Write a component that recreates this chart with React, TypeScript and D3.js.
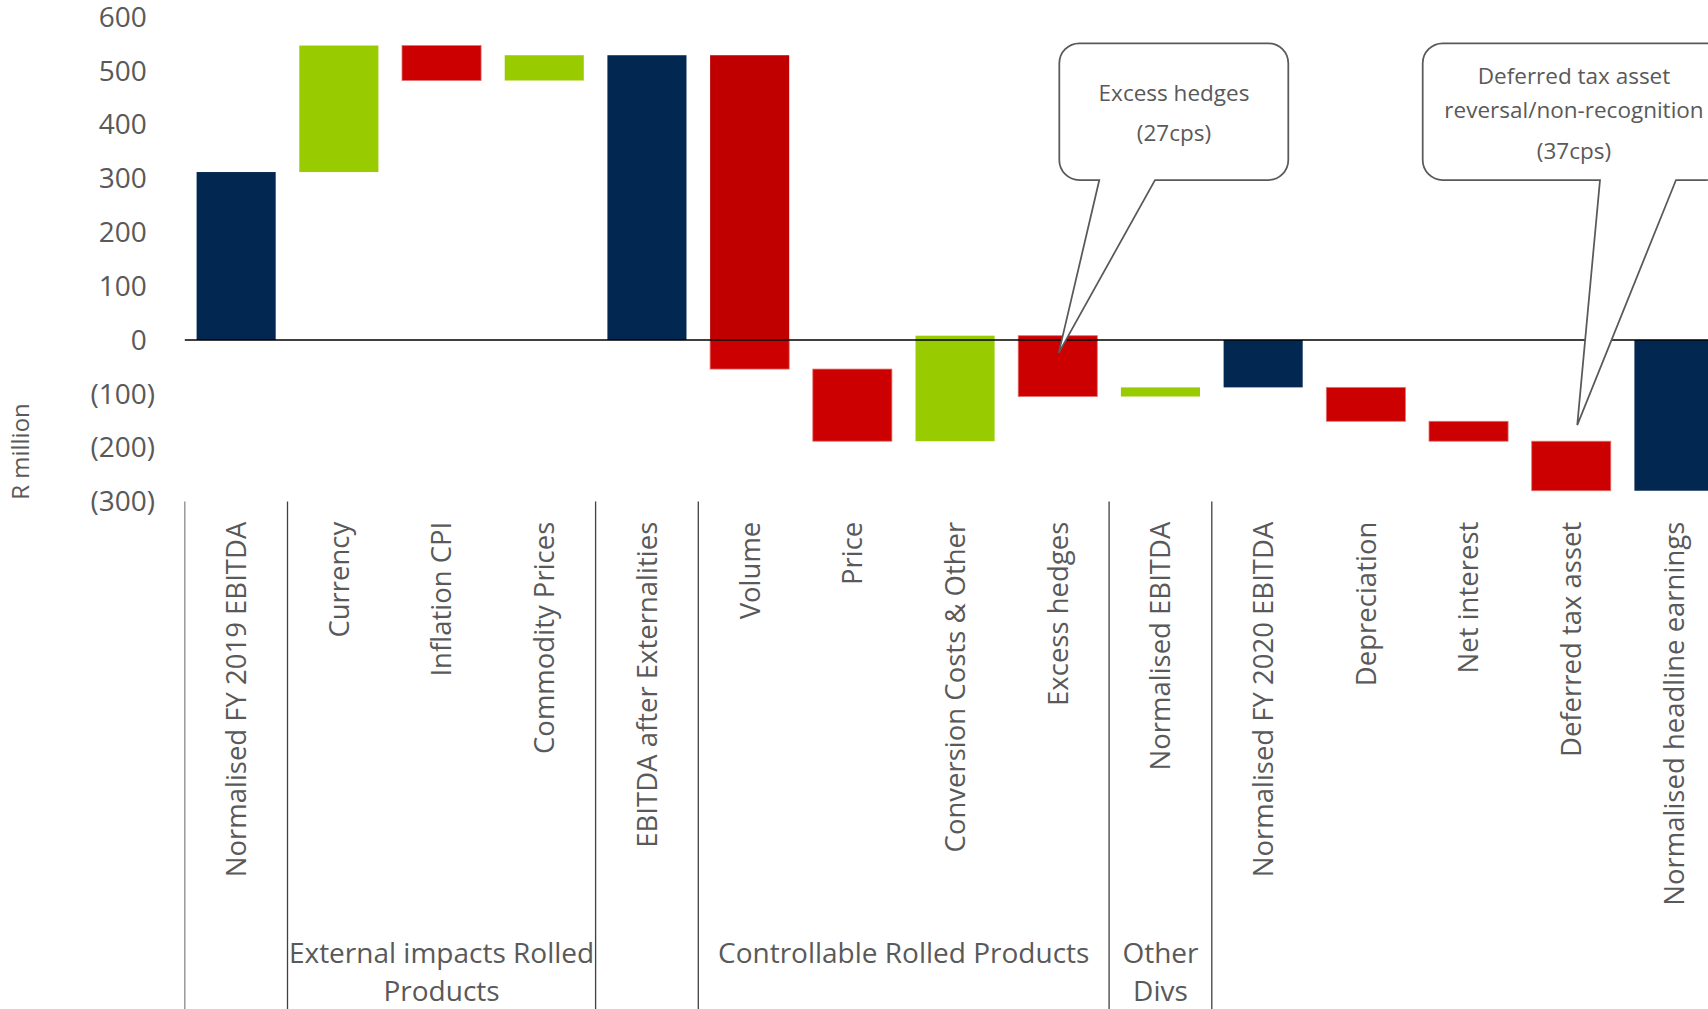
import React from "react";
import * as d3 from "d3";

// ---------- data ----------
const categories = [
  "Normalised FY 2019 EBITDA",
  "Currency",
  "Inflation CPI",
  "Commodity Prices",
  "EBITDA after Externalities",
  "Volume",
  "Price",
  "Conversion Costs & Other",
  "Excess hedges",
  "Normalised EBITDA",
  "Normalised FY 2020 EBITDA",
  "Depreciation",
  "Net interest",
  "Deferred tax asset",
  "Normalised headline earnings",
];
// "total" bars are read as absolute values, "delta" bars as changes
const kinds = [
  "total", "delta", "delta", "delta", "total", "delta", "delta", "delta",
  "delta", "delta", "total", "delta", "delta", "delta", "total",
];
const values = [312, 235, -65, 47, 529, -583, -134, 196, -113, 17, -88, -63, -37, -92, -280];

const yTicks = [-300, -200, -100, 0, 100, 200, 300, 400, 500, 600];

const groupLines = [["External impacts Rolled", "Products"], ["Controllable Rolled Products"], ["Other", "Divs"]];
const groupFirst = [1, 5, 9];
const groupLast = [3, 8, 9];
const separatorBefore = [0, 1, 4, 5, 9, 10];

const callout1Lines = ["Excess hedges", "(27cps)"];
const callout2Lines = ["Deferred tax asset", "reversal/non-recognition", "(37cps)"];
const callout1Target = { category: "Excess hedges", value: -24 };
const callout2Target = { category: "Deferred tax asset", value: -158 };

// ---------- styles ----------
const NAVY = "#022851";
const GREEN = "#99CC00";
const RED = "#CC0000";
const DARKRED = "#C00000";
const TEXT = "#595959";
const FONT = "'Open Sans', sans-serif";

function calloutPath(x0: number, y0: number, x1: number, y1: number, r: number, bl: number, br: number, tx: number, ty: number) {
  return `M${x0 + r},${y0} H${x1 - r} A${r},${r} 0 0 1 ${x1},${y0 + r} V${y1 - r} A${r},${r} 0 0 1 ${x1 - r},${y1} H${br} L${tx},${ty} L${bl},${y1} H${x0 + r} A${r},${r} 0 0 1 ${x0},${y1 - r} V${y0 + r} A${r},${r} 0 0 1 ${x0 + r},${y0} Z`;
}

export default function App() {
  React.useEffect(() => {
    document.body.style.margin = "0";
    document.body.style.overflow = "hidden";
  }, []);

  const W = 1708;
  const H = 1009;
  const left = 184.8;
  const step = 102.7;
  const x = d3
    .scaleBand<string>()
    .domain(categories)
    .range([left, left + step * categories.length])
    .paddingInner(0.23)
    .paddingOuter(0.115);
  const y = d3.scaleLinear().domain([-300, 600]).range([501.5, 17]);
  const bw = x.bandwidth();
  const st = x.step();

  // waterfall segments
  type Seg = { key: string; x: number; y0: number; y1: number; fill: string; stroke?: string };
  const segs: Seg[] = [];
  let running = 0;
  categories.forEach((c, i) => {
    let a: number, b: number, fill: string;
    if (kinds[i] === "total") {
      a = 0;
      b = values[i];
      running = values[i];
      fill = NAVY;
    } else {
      a = running;
      b = running + values[i];
      running = b;
      fill = values[i] >= 0 ? GREEN : RED;
    }
    const lo = Math.min(a, b);
    const hi = Math.max(a, b);
    if (c === "Volume" && lo < 0 && hi > 0) {
      segs.push({ key: c + "p", x: x(c)!, y0: y(hi), y1: y(0), fill: DARKRED });
      segs.push({ key: c + "n", x: x(c)!, y0: y(0), y1: y(lo), fill: RED, stroke: "#E47070" });
    } else {
      segs.push({ key: c, x: x(c)!, y0: y(hi), y1: y(lo), fill, stroke: fill === RED ? "#E47070" : undefined });
    }
  });

  const labelTop = 521.7;

  const t1x = x(callout1Target.category)! + bw / 2 + 1;
  const t1y = y(callout1Target.value);
  const t2x = x(callout2Target.category)! + bw / 2 + 6;
  const t2y = y(callout2Target.value);

  return (
    <svg width={W} height={H} style={{ position: "absolute", left: 0, top: 0, background: "#fff" }} fontFamily={FONT}>
      <rect x={0} y={0} width={W} height={H} fill="#fff" />
      {/* y axis labels */}
      {yTicks.map((t) => (
        <text key={t} x={155} y={y(t)} dy="0.35em" textAnchor="end" fontSize={28} fill={TEXT}>
          {t < 0 ? `(${-t})` : `${t}`}
          {t >= 0 ? <tspan fillOpacity={0}>)</tspan> : null}
        </text>
      ))}
      <text transform="translate(20.7,451.5) rotate(-90)" dy="0.36em" textAnchor="middle" fontSize={24} fill={TEXT}>
        R million
      </text>

      {/* bars */}
      {segs.map((s) => (
        <rect
          key={s.key}
          x={s.x}
          y={s.y0}
          width={bw}
          height={Math.max(0, s.y1 - s.y0)}
          fill={s.fill}
          stroke={s.stroke}
          strokeWidth={s.stroke ? 0.8 : 0}
        />
      ))}

      {/* zero line */}
      <line x1={left} x2={W} y1={y(0)} y2={y(0)} stroke="#000" strokeWidth={1.5} />

      {/* separators */}
      {separatorBefore.map((k) => (
        <line
          key={k}
          x1={left + k * st}
          x2={left + k * st}
          y1={y(-300)}
          y2={H}
          stroke={k === 0 ? "#8a8a8a" : "#404040"}
          strokeWidth={1.3}
        />
      ))}

      {/* category labels */}
      {categories.map((c) => (
        <text
          key={c}
          transform={`translate(${x(c)! + bw / 2},${labelTop}) rotate(-90)`}
          dy="0.36em"
          textAnchor="end"
          fontSize={27.5}
          fill={TEXT}
        >
          {c}
        </text>
      ))}

      {/* group labels */}
      {groupLines.map((lines, g) => {
        const cx = (left + groupFirst[g] * st + left + (groupLast[g] + 1) * st) / 2;
        return (
          <text key={g} textAnchor="middle" fontSize={28} fill={TEXT}>
            {lines.map((ln, j) => (
              <tspan key={j} x={cx} y={962.5 + j * 38}>
                {ln}
              </tspan>
            ))}
          </text>
        );
      })}

      {/* callouts */}
      <path d={calloutPath(1059.3, 43.3, 1288.3, 180, 20, 1099.3, 1155, t1x, t1y)} fill="#fff" stroke={TEXT} strokeWidth={1.75} />
      {callout1Lines.map((ln, j) => (
        <text key={ln} x={1174} y={101 + j * 40.3} textAnchor="middle" fontSize={22.5} fill={TEXT}>
          {ln}
        </text>
      ))}
      <path d={calloutPath(1422.7, 43.3, 1725.3, 180, 20, 1600, 1676, t2x, t2y)} fill="#fff" stroke={TEXT} strokeWidth={1.75} />
      {callout2Lines.map((ln, j) => (
        <text key={ln} x={1574} y={[84, 118, 159][j]} textAnchor="middle" fontSize={22.5} fill={TEXT}>
          {ln}
        </text>
      ))}
    </svg>
  );
}
